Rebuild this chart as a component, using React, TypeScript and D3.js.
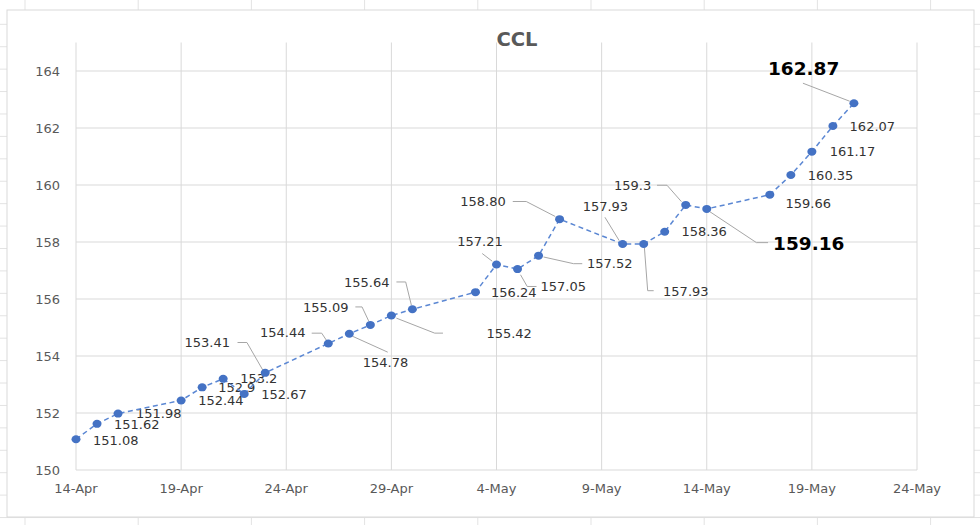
import React from "react";
import * as d3 from "d3";

// ---- Data ----
const dates: string[] = [
  "2021-04-14", "2021-04-15", "2021-04-16",
  "2021-04-19", "2021-04-20", "2021-04-21", "2021-04-22", "2021-04-23",
  "2021-04-26", "2021-04-27", "2021-04-28", "2021-04-29", "2021-04-30",
  "2021-05-03", "2021-05-04", "2021-05-05", "2021-05-06", "2021-05-07",
  "2021-05-10", "2021-05-11", "2021-05-12", "2021-05-13", "2021-05-14",
  "2021-05-17", "2021-05-18", "2021-05-19", "2021-05-20", "2021-05-21",
];
const values: number[] = [
  151.08, 151.62, 151.98,
  152.44, 152.9, 153.2, 152.67, 153.41,
  154.44, 154.78, 155.09, 155.42, 155.64,
  156.24, 157.21, 157.05, 157.52, 158.8,
  157.93, 157.93, 158.36, 159.3, 159.16,
  159.66, 160.35, 161.17, 162.07, 162.87,
];
const labels: string[] = [
  "151.08", "151.62", "151.98",
  "152.44", "152.9", "153.2", "152.67", "153.41",
  "154.44", "154.78", "155.09", "155.42", "155.64",
  "156.24", "157.21", "157.05", "157.52", "158.80",
  "157.93", "157.93", "158.36", "159.3", "159.16",
  "159.66", "160.35", "161.17", "162.07", "162.87",
];
const highlightedIdx: number[] = [22, 27];
const title = "CCL";
const yTicks: number[] = [150, 152, 154, 156, 158, 160, 162, 164];
const xTicks: string[] = [
  "2021-04-14", "2021-04-19", "2021-04-24", "2021-04-29",
  "2021-05-04", "2021-05-09", "2021-05-14", "2021-05-19", "2021-05-24",
];

// ---- Label layout (text left x / center y offset from point, leader polyline offsets) ----
type Lay = { dx: number; dy: number; leader?: [number, number][] };
const labelLayout: Lay[] = [
  { dx: 17, dy: 1 },
  { dx: 17, dy: 0 },
  { dx: 18, dy: 0 },
  { dx: 17, dy: 0 },
  { dx: 16, dy: 0 },
  { dx: 17, dy: 0 },
  { dx: 17, dy: 0 },
  { dx: -80.7, dy: -30, leader: [[-27.7, -30.3], [-18.3, -30.3], [-2, -2]] },
  { dx: -68.3, dy: -11, leader: [[-16.6, -10.3], [-6.6, -10.3], [-1.3, -2.3]] },
  { dx: 13.4, dy: 28.4, leader: [[3, 2.4], [38.4, 18.4]] },
  { dx: -67.3, dy: -17.4, leader: [[-15, -18], [-8.3, -18], [-1.7, -4]] },
  { dx: 95, dy: 17.6, leader: [[5, 2.6], [43.3, 17.6], [51.6, 17.6]] },
  { dx: -68.4, dy: -27.3, leader: [[-16, -27.3], [-6.7, -27.3], [-1, -4]] },
  { dx: 15.6, dy: 0 },
  { dx: -39.3, dy: -23.3, leader: [[-14.3, -11], [-4.3, -3.3]] },
  { dx: 23, dy: 17.4, leader: [[3, 5.7], [9.7, 17.4], [19, 17.4]] },
  { dx: 48.4, dy: 7.3, leader: [[5, 1.3], [35, 8], [43.7, 8]] },
  { dx: -99.3, dy: -17.7, leader: [[-46.8, -17.7], [-33.3, -17.7], [-4.3, -2.7]] },
  { dx: -40, dy: -37.5, leader: [[-17.7, -26.7], [-3.4, -3.3]] },
  { dx: 19.4, dy: 47.7, leader: [[0.7, 3.3], [4, 46.7], [10, 46.7]] },
  { dx: 16.7, dy: 0 },
  { dx: -71.7, dy: -19.3, leader: [[-28.7, -19.7], [-18.7, -19.7], [-4.3, -3.3]] },
  { dx: 66.3, dy: 34.3, leader: [[3, 2.7], [49.7, 33.7], [61.3, 33.7]] },
  { dx: 15.7, dy: 8.3 },
  { dx: 17, dy: 0 },
  { dx: 17.8, dy: 0 },
  { dx: 16.7, dy: 0 },
  { dx: -86, dy: -34.4, leader: [[-51, -20], [-4.3, -2]] },
];

const W = 980;
const H = 525;
const parse = d3.timeParse("%Y-%m-%d");
const fmt = d3.timeFormat("%-d-%b");
const FONT = "'DejaVu Sans', Verdana, sans-serif";

export default function App() {
  const x = d3
    .scaleTime()
    .domain([parse("2021-04-14")!, parse("2021-05-24")!])
    .range([76, 917]);
  const y = d3.scaleLinear().domain([150, 165]).range([470, 42.5]);

  const pts = dates.map((d, i) => ({
    x: x(parse(d)!),
    y: y(values[i]),
    label: labels[i],
    lay: labelLayout[i],
  }));
  const lineGen = d3
    .line<{ x: number; y: number }>()
    .x((d) => d.x)
    .y((d) => d.y);

  // background sheet grid
  const cols = d3.range(25, W, 113.2);
  const rows = d3.range(24.3, H, 22.42);

  return (
    <svg
      width={W}
      height={H}
      style={{ position: "absolute", left: 0, top: 0, background: "#fff" }}
      fontFamily={FONT}
    >
      <g stroke="#e3e3e3" strokeWidth={1}>
        {cols.map((c, i) => (
          <line key={"c" + i} x1={c} x2={c} y1={0} y2={H} />
        ))}
        {rows.map((r, i) => (
          <line key={"r" + i} x1={0} x2={W} y1={r} y2={r} />
        ))}
      </g>
      <rect x={7} y={10} width={967} height={507} fill="#fff" stroke="#d9d9d9" strokeWidth={1} />

      <text
        x={517}
        y={45.5}
        textAnchor="middle"
        fontSize={19.5}
        fontWeight="bold"
        fill="#595959"
      >
        {title}
      </text>

      {/* gridlines */}
      <g stroke="#d9d9d9" strokeWidth={1}>
        {yTicks.map((t) => (
          <line key={"y" + t} x1={76} x2={917} y1={y(t)} y2={y(t)} />
        ))}
        {xTicks.map((t) => (
          <line key={"x" + t} x1={x(parse(t)!)} x2={x(parse(t)!)} y1={y(165)} y2={470} />
        ))}
      </g>

      {/* axis labels */}
      <g fontSize={13} fill="#595959">
        {yTicks.map((t) => (
          <text key={"yl" + t} x={60} y={y(t)} dy="0.36em" textAnchor="end">
            {t}
          </text>
        ))}
        {xTicks.map((t) => (
          <text key={"xl" + t} x={x(parse(t)!)} y={488.5} dy="0.36em" textAnchor="middle">
            {fmt(parse(t)!)}
          </text>
        ))}
      </g>

      {/* leader lines */}
      <g stroke="#a6a6a6" strokeWidth={1} fill="none">
        {pts.map((p, i) =>
          p.lay.leader ? (
            <polyline
              key={"ld" + i}
              points={p.lay.leader.map(([dx, dy]) => `${p.x + dx},${p.y + dy}`).join(" ")}
            />
          ) : null
        )}
      </g>

      {/* data labels */}
      <g>
        {pts.map((p, i) => {
          const big = highlightedIdx.includes(i);
          return (
            <text
              key={"dl" + i}
              x={p.x + p.lay.dx}
              y={p.y + p.lay.dy}
              dy="0.36em"
              fontSize={big ? 18.5 : 13}
              fontWeight={big ? "bold" : "normal"}
              fill={big ? "#000" : "#333"}
            >
              {p.label}
            </text>
          );
        })}
      </g>

      {/* series */}
      <path
        d={lineGen(pts) || ""}
        fill="none"
        stroke="#5b87d3"
        strokeWidth={1.5}
        strokeDasharray="5,3.5"
      />
      <g fill="#4472c4">
        {pts.map((p, i) => (
          <ellipse key={"m" + i} cx={p.x} cy={p.y} rx={4.5} ry={4} />
        ))}
      </g>
    </svg>
  );
}
